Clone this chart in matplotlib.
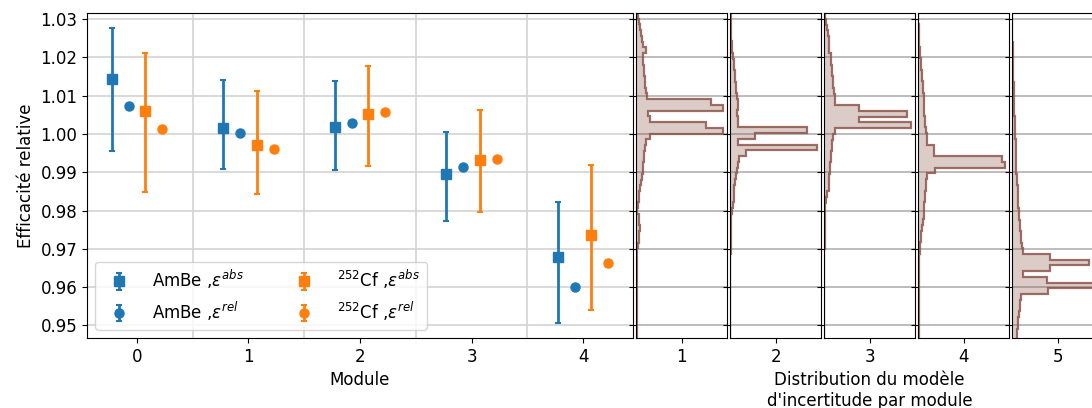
import numpy as np
import matplotlib
matplotlib.use('Agg')
import matplotlib.pyplot as plt
from matplotlib.ticker import MultipleLocator, FixedLocator

# Efficacite relative par module
modules = [0, 1, 2, 3, 4]

ambe_abs = [1.0143, 1.0016, 1.0019, 0.9896, 0.9679]
ambe_abs_lo = [0.0187, 0.0107, 0.0114, 0.0124, 0.0173]
ambe_abs_hi = [0.0134, 0.0124, 0.0120, 0.0108, 0.0143]

ambe_rel = [1.0074, 1.0003, 1.0029, 0.9915, 0.9601]
ambe_rel_err = [0.0005, 0.0005, 0.0005, 0.0005, 0.0005]

cf_abs = [1.0060, 0.9971, 1.0053, 0.9931, 0.9737]
cf_abs_lo = [0.0211, 0.0128, 0.0136, 0.0134, 0.0197]
cf_abs_hi = [0.0152, 0.0140, 0.0124, 0.0132, 0.0182]

cf_rel = [1.0013, 0.9961, 1.0058, 0.9934, 0.9662]
cf_rel_err = [0.0005, 0.0005, 0.0005, 0.0005, 0.0009]

# Histogrammes du modele d'incertitude (haut -> bas, largeur de bin fixe)
bin_width = 0.0015
hist_tops = [1.0316, 1.0317, 1.03155, 1.03173, 1.03164]
hist_counts = [
    [2, 4, 5, 6, 7, 8, 11, 8, 8, 9, 9, 10, 10, 11, 13,
     87, 100, 14, 16, 81, 100, 16,
     12, 10, 9, 9, 8, 8, 7, 6, 5, 4, 3, 2,
     1, 3, 4, 5, 4, 3, 2] + [1] * 16,
    [1, 1, 1, 1, 1, 2,
     2, 3, 4, 4, 6, 6, 7, 7, 8, 9, 9, 8, 9, 9,
     89, 29, 9, 100, 18,
     10, 9, 8, 7, 6, 5, 4, 4, 3, 2, 1] + [1] * 6 + [0] * 15,
    [1, 2, 3, 4, 5, 6, 6, 8, 8, 9, 9, 10, 10, 11, 12, 12,
     40, 95, 40, 100, 13,
     10, 9, 9, 8, 8, 7, 7, 6, 6, 5, 3, 2, 1, 1, 1] + [1] * 5 + [0] * 16,
    [0, 0, 1, 1, 1, 1, 2, 2, 3, 3, 4, 4, 5, 5, 6, 6, 7, 7, 8, 8, 9, 10, 10, 18, 18,
     96, 100, 19,
     10, 9, 9, 8, 8, 7, 6, 6, 5, 4, 3, 3, 2, 2, 1] + [1] * 14,
    [0, 0, 0, 0, 0, 1, 1, 1, 1, 1, 1, 1, 2, 2, 2, 2, 2, 2, 3, 3, 3, 3,
     4, 4, 4, 4, 4, 4, 5, 5, 6, 6, 6, 7, 8, 8, 9, 9, 10, 10, 11, 12,
     43, 88, 43, 12, 40, 100, 41,
     10, 9, 9, 8, 7, 6, 5, 5],
]
hist_labels = ['1', '2', '3', '4', '5']

plt.rcParams['font.size'] = 12

W, H = 1092, 408
fig = plt.figure(figsize=(W / 100, H / 100), dpi=100)
ax = fig.add_axes([87 / W, 70 / H, 546 / W, 325 / H])

x = np.array(modules)
eb = dict(capsize=2.5, ms=6.5, elinewidth=2, capthick=1.5)
ax.errorbar(x - 0.225, ambe_abs, yerr=[ambe_abs_lo, ambe_abs_hi], fmt='s', color='tab:blue',
            label=r'AmBe ,$\varepsilon^{abs}$', **eb)
ax.errorbar(x - 0.075, ambe_rel, yerr=ambe_rel_err, fmt='o', color='tab:blue',
            label=r'AmBe ,$\varepsilon^{rel}$', **eb)
ax.errorbar(x + 0.075, cf_abs, yerr=[cf_abs_lo, cf_abs_hi], fmt='s', color='tab:orange',
            label=r'$^{252}$Cf ,$\varepsilon^{abs}$', **eb)
ax.errorbar(x + 0.225, cf_rel, yerr=cf_rel_err, fmt='o', color='tab:orange',
            label=r'$^{252}$Cf ,$\varepsilon^{rel}$', **eb)

ylim = (0.9467, 1.0316)
ax.set_ylim(ylim)
ax.set_xticks(modules)
ax.yaxis.set_major_locator(MultipleLocator(0.01))
ax.xaxis.set_minor_locator(FixedLocator([0.5, 1.5, 2.5, 3.5]))
ax.tick_params(axis='x', which='minor', length=0)
ax.grid(True, axis='y', which='major', color='#d3d3d3', lw=1.2)
ax.grid(True, axis='x', which='minor', color='#d3d3d3', lw=1.2)
ax.set_axisbelow(True)
ax.set_xlabel('Module')
ax.set_ylabel('Efficacité relative')
ax.legend(loc='lower left', ncol=2, columnspacing=2.6, handletextpad=1.0)

brown = matplotlib.colors.to_rgb('tab:brown')
for i in range(5):
    hx = fig.add_axes([(636 + 94.1 * i) / W, 70 / H, 91 / W, 325 / H])
    counts = np.array(hist_counts[i], dtype=float)
    edges = hist_tops[i] - bin_width * np.arange(len(counts) + 1)
    hx.stairs(counts[::-1], edges[::-1], orientation='horizontal', fill=True,
              facecolor=brown + (0.3,), edgecolor=brown + (0.85,), linewidth=1.6)
    hx.set_ylim(ylim)
    hx.yaxis.set_major_locator(MultipleLocator(0.01))
    hx.tick_params(axis='y', labelleft=False, length=5)
    hx.grid(True, axis='y', color='#b0b0b0', lw=1.2)
    hx.set_axisbelow(True)
    xl = hx.get_xlim()
    hx.set_xticks([(xl[0] + xl[1]) / 2])
    hx.set_xticklabels([hist_labels[i]])
    hx.set_xlim(xl)
    if i == 2:
        hx.set_xlabel("Distribution du modèle\nd'incertitude par module")

fig.savefig('out.png', dpi=100)
